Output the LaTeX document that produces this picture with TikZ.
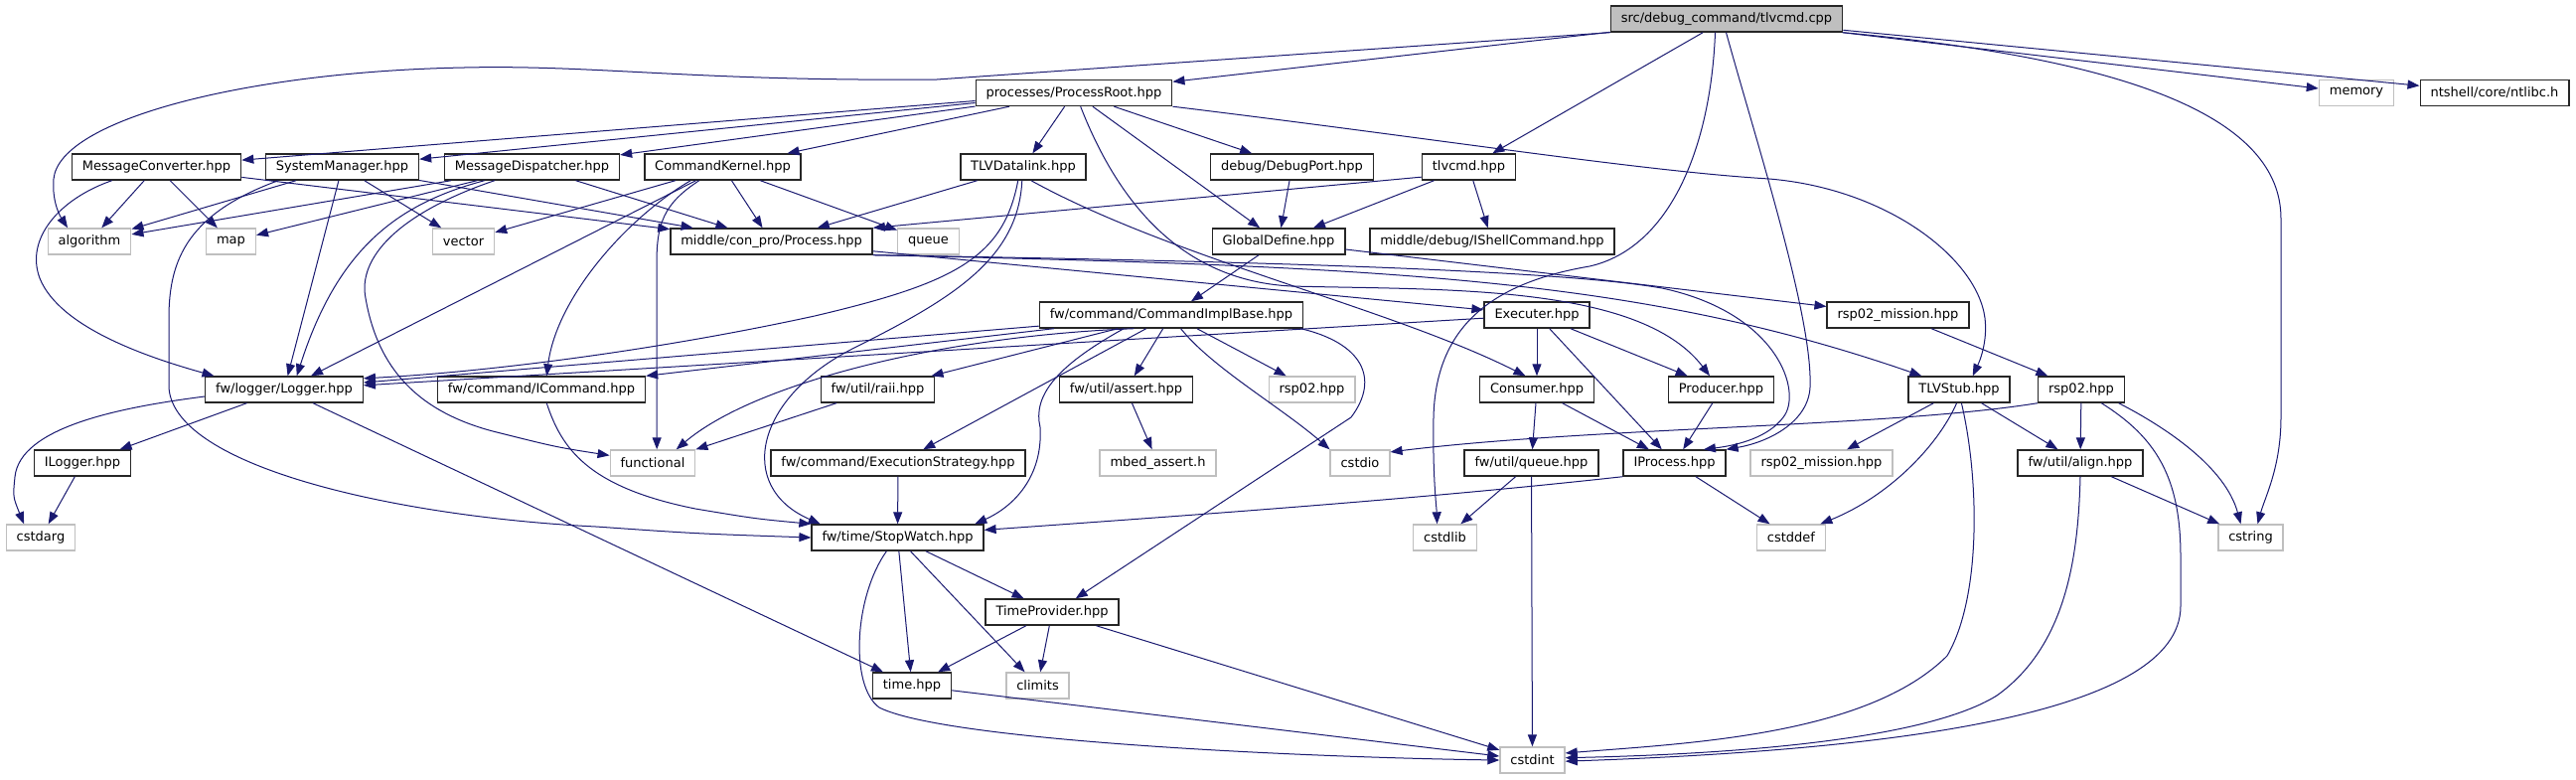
\documentclass[tikz,border=0pt]{standalone}
\usepackage{fontspec}
\setmainfont{DejaVu Sans}
\usetikzlibrary{arrows.meta}
\definecolor{incblue}{RGB}{25,25,112}
\definecolor{sysgray}{RGB}{191,191,191}

\begin{document}
\begin{tikzpicture}[x=0.5pt, y=-0.5pt,
  file/.style={draw=black!85, line width=0.7pt, fill=white, inner xsep=5.2pt, inner ysep=0pt, minimum height=13pt, font=\fontsize{6.5}{7.8}\selectfont},
  sys/.style={file, draw=sysgray},
  root/.style={file, fill=sysgray},
  inc/.style={color=incblue, line width=0.5pt, -{Triangle[length=6pt, width=4.5pt]}}]
  \fill[white, use as bounding box] (0,0) rectangle (2593,784);
  \node[root] (tlvcmdcpp) at (1738,19) {src/debug\_command/tlvcmd.cpp};
  \node[file] (processroot) at (1081,93.5) {processes/ProcessRoot.hpp};
  \node[sys] (memory) at (2372,93.5) {memory};
  \node[file] (ntlibc) at (2511,93.5) {ntshell/core/ntlibc.h};
  \node[file] (msgconv) at (157.5,168) {MessageConverter.hpp};
  \node[file] (sysmgr) at (344.5,168) {SystemManager.hpp};
  \node[file] (msgdisp) at (535.5,168) {MessageDispatcher.hpp};
  \node[file] (cmdkernel) at (727.5,168) {CommandKernel.hpp};
  \node[file] (tlvdatalink) at (1030,168) {TLVDatalink.hpp};
  \node[file] (debugport) at (1300.5,168) {debug/DebugPort.hpp};
  \node[file] (tlvcmdhpp) at (1478.5,168) {tlvcmd.hpp};
  \node[sys] (algorithm) at (90,243) {algorithm};
  \node[sys] (map) at (232.5,243) {map};
  \node[sys] (vector) at (466.5,243) {vector};
  \node[file] (process) at (776.5,243) {middle/con\_pro/Process.hpp};
  \node[sys] (queue) at (934.5,243) {queue};
  \node[file] (globaldef) at (1287,243) {GlobalDefine.hpp};
  \node[file] (ishell) at (1502,243) {middle/debug/IShellCommand.hpp};
  \node[file] (cmdimpl) at (1179,317) {fw/command/CommandImplBase.hpp};
  \node[file] (executer) at (1547,317) {Executer.hpp};
  \node[file] (missionhpp) at (1910.5,317) {rsp02\_mission.hpp};
  \node[file] (logger) at (286,392) {fw/logger/Logger.hpp};
  \node[file] (icommand) at (545,392) {fw/command/ICommand.hpp};
  \node[file] (raii) at (883.5,392) {fw/util/raii.hpp};
  \node[file] (utilassert) at (1133.5,392) {fw/util/assert.hpp};
  \node[sys] (rspsys) at (1320.5,392) {rsp02.hpp};
  \node[file] (consumer) at (1547,392) {Consumer.hpp};
  \node[file] (producer) at (1732.5,392) {Producer.hpp};
  \node[file] (tlvstub) at (1972,392) {TLVStub.hpp};
  \node[file] (rsphpp) at (2095,392) {rsp02.hpp};
  \node[file] (ilogger) at (83,466) {ILogger.hpp};
  \node[sys] (functional) at (657,466) {functional};
  \node[file] (execstrat) at (904,466) {fw/command/ExecutionStrategy.hpp};
  \node[sys] (mbedassert) at (1165.5,466) {mbed\_assert.h};
  \node[sys] (cstdio) at (1369,466) {cstdio};
  \node[file] (utilqueue) at (1541.5,466) {fw/util/queue.hpp};
  \node[file] (iprocess) at (1685.5,466) {IProcess.hpp};
  \node[sys] (missionsys) at (1833.5,466) {rsp02\_mission.hpp};
  \node[file] (align) at (2094,466) {fw/util/align.hpp};
  \node[sys] (cstdarg) at (41,541) {cstdarg};
  \node[file] (stopwatch) at (903.5,541) {fw/time/StopWatch.hpp};
  \node[sys] (cstdlib) at (1454.5,541) {cstdlib};
  \node[sys] (cstddef) at (1803,541) {cstddef};
  \node[sys] (cstring) at (2265.5,541) {cstring};
  \node[file] (timeprov) at (1059,616) {TimeProvider.hpp};
  \node[file] (timehpp) at (918,690) {time.hpp};
  \node[sys] (climits) at (1044.5,690) {climits};
  \node[sys] (cstdint) at (1542.5,765) {cstdint};
  \draw[inc] (tlvcmdcpp) -- (processroot);
  \draw[inc] (tlvcmdcpp) -- (tlvcmdhpp);
  \draw[inc] (tlvcmdcpp) -- (memory);
  \draw[inc] (tlvcmdcpp) -- (ntlibc);
  \draw[inc] (tlvcmdcpp.south west) -- (943,80) .. controls (700,82) and (600,65) .. (467,68) .. controls (250,72) and (60,120) .. (54,180) .. controls (52,205) and (62,220) .. (algorithm.148);
  \draw[inc] (tlvcmdcpp.south east) .. controls (2150,60) and (2296,120) .. (2296,220) -- (2296,420) .. controls (2296,470) and (2280,500) .. (cstring.63);
  \draw[inc] (tlvcmdcpp.230) .. controls (1722,150) and (1680,250) .. (1600,268) .. controls (1500,285) and (1445,330) .. (1443,420) .. controls (1442,480) and (1446,510) .. (cstdlib.120);
  \draw[inc] (tlvcmdcpp.268) .. controls (1770,150) and (1825,320) .. (1822,390) .. controls (1820,425) and (1780,445) .. (iprocess.north east);
  \draw[inc] (processroot) -- (msgconv);
  \draw[inc] (processroot) -- (sysmgr);
  \draw[inc] (processroot) -- (msgdisp);
  \draw[inc] (processroot) -- (cmdkernel);
  \draw[inc] (processroot) -- (tlvdatalink);
  \draw[inc] (processroot) -- (debugport);
  \draw[inc] (processroot) -- (globaldef);
  \draw[inc] (processroot.south east) .. controls (1450,140) and (1650,172) .. (1781,180) .. controls (1900,190) and (1990,260) .. (1998,320) .. controls (2001,345) and (1992,365) .. (tlvstub.45);
  \draw[inc] (processroot.296) .. controls (1120,190) and (1180,282) .. (1300,288) .. controls (1450,292) and (1650,285) .. (producer.130);
  \draw[inc] (msgconv) -- (algorithm);
  \draw[inc] (msgconv) -- (map);
  \draw[inc] (msgconv) -- (process);
  \draw[inc] (msgconv.197) .. controls (60,200) and (25,240) .. (40,280) .. controls (60,330) and (150,360) .. (logger.169);
  \draw[inc] (sysmgr) -- (algorithm);
  \draw[inc] (sysmgr) -- (vector);
  \draw[inc] (sysmgr) -- (process);
  \draw[inc] (sysmgr) -- (logger);
  \draw[inc] (sysmgr.192) .. controls (190,215) and (170,260) .. (170,320) -- (170,390) .. controls (175,470) and (400,520) .. (600,530) .. controls (700,537) .. (stopwatch.west);
  \draw[inc] (msgdisp) -- (algorithm);
  \draw[inc] (msgdisp) -- (map);
  \draw[inc] (msgdisp) -- (process);
  \draw[inc] (msgdisp.196) .. controls (400,205) and (340,250) .. (logger.47);
  \draw[inc] (msgdisp.200) .. controls (400,215) and (360,260) .. (368,300) .. controls (380,370) and (420,415) .. (500,435) .. controls (560,450) .. (functional.170);
  \draw[inc] (cmdkernel) -- (vector);
  \draw[inc] (cmdkernel) -- (process);
  \draw[inc] (cmdkernel) -- (queue);
  \draw[inc] (cmdkernel) -- (logger);
  \draw[inc] (cmdkernel.203) .. controls (630,220) and (560,300) .. (icommand.69);
  \draw[inc] (cmdkernel.210) .. controls (668,205) and (661,225) .. (661,265) -- (functional.73);
  \draw[inc] (tlvdatalink) -- (process);
  \draw[inc] (tlvdatalink.300) .. controls (1180,260) and (1400,310) .. (consumer.130);
  \draw[inc] (tlvdatalink.249) .. controls (1010,260) and (960,285) .. (820,318) .. controls (650,355) and (480,375) .. (logger.8);
  \draw[inc] (tlvdatalink.265) .. controls (1025,260) and (960,300) .. (860,350) .. controls (760,400) and (740,490) .. (stopwatch.170);
  \draw[inc] (debugport) -- (globaldef);
  \draw[inc] (tlvcmdhpp.192) -- (process.north east);
  \draw[inc] (tlvcmdhpp) -- (globaldef);
  \draw[inc] (tlvcmdhpp) -- (ishell);
  \draw[inc] (globaldef) -- (cmdimpl);
  \draw[inc] (globaldef) -- (missionhpp);
  \draw[inc] (process) -- (executer);
  \draw[inc] (process.south east) .. controls (1200,262) and (1560,270) .. (1673,290) .. controls (1790,315) and (1815,395) .. (1795,420) .. controls (1780,440) and (1750,448) .. (iprocess.25);
  \draw[inc] (process.south east) .. controls (1400,268) and (1650,280) .. (tlvstub.160);
  \draw[inc] (cmdimpl) -- (logger.5);
  \draw[inc] (cmdimpl) -- (icommand.north east);
  \draw[inc] (cmdimpl.200) .. controls (950,338) and (760,385) .. (functional.30);
  \draw[inc] (cmdimpl) -- (raii);
  \draw[inc] (cmdimpl) -- (execstrat);
  \draw[inc] (cmdimpl.196) .. controls (1060,370) and (1040,400) .. (1047,430) .. controls (1050,480) and (1020,510) .. (stopwatch.10);
  \draw[inc] (cmdimpl) -- (utilassert);
  \draw[inc] (cmdimpl) -- (rspsys);
  \draw[inc] (cmdimpl.305) .. controls (1220,370) and (1290,410) .. (cstdio.north west);
  \draw[inc] (cmdimpl.354) .. controls (1370,345) and (1390,380) .. (1360,420) -- (timeprov.30);
  \draw[inc] (executer) -- (logger.3);
  \draw[inc] (executer) -- (consumer);
  \draw[inc] (executer) -- (producer);
  \draw[inc] (executer) -- (iprocess);
  \draw[inc] (consumer) -- (utilqueue);
  \draw[inc] (consumer) -- (iprocess);
  \draw[inc] (producer) -- (iprocess);
  \draw[inc] (missionhpp) -- (rsphpp);
  \draw[inc] (rsphpp) -- (align);
  \draw[inc] (rsphpp.south west) .. controls (1900,430) and (1600,430) .. (cstdio.20);
  \draw[inc] (rsphpp.340) .. controls (2180,430) and (2240,470) .. (cstring.126);
  \draw[inc] (rsphpp.326) .. controls (2170,440) and (2195,480) .. (2195,560) -- (2195,610) .. controls (2195,720) and (1900,755) .. (cstdint.-2);
  \draw[inc] (tlvstub) -- (missionsys);
  \draw[inc] (tlvstub) -- (align);
  \draw[inc] (tlvstub.260) .. controls (1950,450) and (1900,500) .. (cstddef.25);
  \draw[inc] (tlvstub.280) .. controls (1992,480) and (1995,600) .. (1960,660) .. controls (1880,740) and (1700,748) .. (cstdint.12);
  \draw[inc] (align) -- (cstring);
  \draw[inc] (align.south) .. controls (2092,560) and (2080,650) .. (2010,700) .. controls (1930,750) and (1700,760) .. (cstdint.4);
  \draw[inc] (iprocess.south west) .. controls (1450,500) and (1250,515) .. (stopwatch.5);
  \draw[inc] (iprocess) -- (cstddef);
  \draw[inc] (utilqueue) -- (cstdlib);
  \draw[inc] (utilqueue) -- (cstdint);
  \draw[inc] (logger) -- (ilogger);
  \draw[inc] (logger.185) .. controls (120,410) and (20,430) .. (15,480) .. controls (13,500) .. (cstdarg.141);
  \draw[inc] (logger) -- (timehpp);
  \draw[inc] (ilogger) -- (cstdarg);
  \draw[inc] (icommand.291) .. controls (565,450) and (590,490) .. (700,512) .. controls (760,522) .. (stopwatch.north west);
  \draw[inc] (raii) -- (functional.north east);
  \draw[inc] (utilassert) -- (mbedassert);
  \draw[inc] (execstrat) -- (stopwatch);
  \draw[inc] (stopwatch) -- (timeprov);
  \draw[inc] (stopwatch) -- (timehpp);
  \draw[inc] (stopwatch) -- (climits);
  \draw[inc] (stopwatch.231) .. controls (860,600) and (855,690) .. (885,712) .. controls (950,745) and (1300,762) .. (cstdint.west);
  \draw[inc] (timeprov) -- (timehpp);
  \draw[inc] (timeprov) -- (climits);
  \draw[inc] (timeprov) -- (cstdint);
  \draw[inc] (timehpp) -- (cstdint);
\end{tikzpicture}
\end{document}
